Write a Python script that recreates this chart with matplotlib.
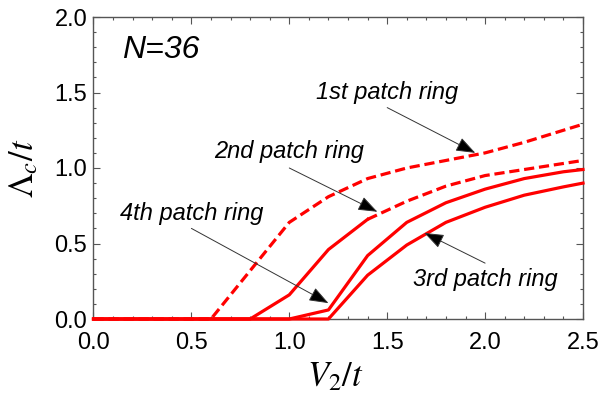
import matplotlib
matplotlib.use("Agg")
import matplotlib.pyplot as plt
from matplotlib.ticker import MultipleLocator

plt.rcParams['font.family'] = ['Liberation Sans', 'DejaVu Sans']
plt.rcParams['mathtext.fontset'] = 'stix'

# 1st patch ring (dashed over the whole range)
x1 = [0.0, 0.6, 1.0, 1.2, 1.4, 1.6, 1.8, 2.0, 2.2, 2.4, 2.5]
y1 = [0.0, 0.0, 0.64, 0.81, 0.93, 1.00, 1.05, 1.10, 1.17, 1.25, 1.29]

# 2nd patch ring: solid part, then dashed part
x2s = [0.0, 0.8, 1.0, 1.2, 1.4]
y2s = [0.0, 0.0, 0.16, 0.46, 0.66]
x2d = [1.4, 1.6, 1.8, 2.0, 2.2, 2.4, 2.5]
y2d = [0.66, 0.78, 0.88, 0.95, 0.99, 1.03, 1.05]

# 4th patch ring
x4 = [0.0, 1.0, 1.2, 1.4, 1.6, 1.8, 2.0, 2.2, 2.4, 2.5]
y4 = [0.0, 0.0, 0.06, 0.42, 0.64, 0.77, 0.86, 0.93, 0.975, 0.99]

# 3rd patch ring
x3 = [0.0, 1.2, 1.4, 1.6, 1.8, 2.0, 2.2, 2.4, 2.5]
y3 = [0.0, 0.0, 0.29, 0.49, 0.64, 0.74, 0.82, 0.875, 0.90]

# label text, text position, arrow start, arrow tip
labels = ["1st patch ring", "2nd patch ring", "4th patch ring", "3rd patch ring"]
label_xy = [(1.50, 1.50), (1.00, 1.11), (0.50, 0.70), (2.00, 0.26)]
arrow_from = [(1.50, 1.40), (1.00, 1.00), (0.50, 0.60), (2.00, 0.37)]
arrow_to = [(1.95, 1.10), (1.45, 0.71), (1.20, 0.105), (1.69, 0.57)]

fig = plt.figure(figsize=(6.03, 3.96), dpi=100)
ax = fig.add_axes([93.5 / 603, 1 - 319 / 396, (583 - 93.5) / 603, (319 - 17) / 396])

red = '#ff0000'
lw = 2.3
dash = (0, (3.2, 1.5))
ax.plot(x3, y3, color=red, lw=lw, clip_on=False, zorder=3)
ax.plot(x4, y4, color=red, lw=lw, clip_on=False, zorder=3)
ax.plot(x2s, y2s, color=red, lw=lw, clip_on=False, zorder=3)
ax.plot(x2d, y2d, color=red, lw=lw, ls=dash, clip_on=False, zorder=3)
ax.plot(x1, y1, color=red, lw=lw, ls=dash, clip_on=False, zorder=3)

for txt, pos, start, tip in zip(labels, label_xy, arrow_from, arrow_to):
    ax.text(pos[0], pos[1], txt, fontsize=17, style='italic', ha='center', va='center')
    ax.annotate('', xy=tip, xytext=start,
                arrowprops=dict(arrowstyle='-|>,head_length=0.75,head_width=0.28',
                                mutation_scale=16, lw=0.7, ec='#333333', fc='black',
                                shrinkA=0, shrinkB=0))

ax.text(0.145, 1.78, 'N=36', fontsize=23, style='italic', ha='left', va='center')

ax.set_xlim(0, 2.5)
ax.set_ylim(0, 2.0)
ax.xaxis.set_major_locator(MultipleLocator(0.5))
ax.xaxis.set_minor_locator(MultipleLocator(0.1))
ax.yaxis.set_major_locator(MultipleLocator(0.5))
ax.yaxis.set_minor_locator(MultipleLocator(0.1))
ax.xaxis.set_major_formatter(plt.FormatStrFormatter('%.1f'))
ax.yaxis.set_major_formatter(plt.FormatStrFormatter('%.1f'))
ax.tick_params(which='both', direction='in', top=True, right=True, color='#555555', width=0.8)
ax.tick_params(which='major', length=5, labelsize=17)
ax.tick_params(which='minor', length=2.5)
ax.tick_params(axis='x', which='major', pad=9.5)
ax.tick_params(axis='y', which='major', pad=4.5)
for sp in ax.spines.values():
    sp.set_color('#555555')
    sp.set_linewidth(1.0)

ax.set_xlabel(r'$V_2/t$', fontsize=25, va='center')
ax.set_ylabel(r'$\Lambda_c/t$', fontsize=25, va='center')
ax.xaxis.set_label_coords(0.495, -0.19)
ax.yaxis.set_label_coords(-0.142, 0.5)

fig.savefig('out.png', dpi=100)
